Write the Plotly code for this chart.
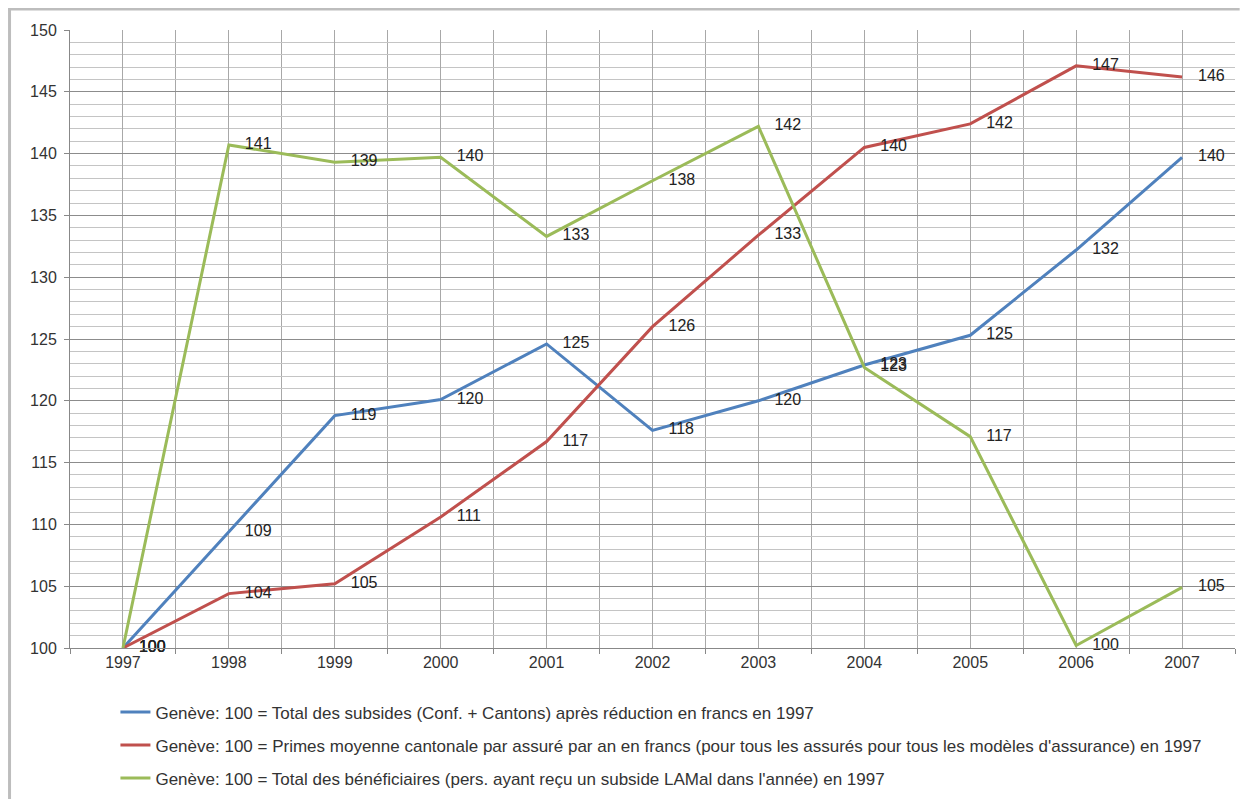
import plotly.graph_objects as go

years = [1997, 1998, 1999, 2000, 2001, 2002, 2003, 2004, 2005, 2006, 2007]

subsides = [100, 109.4, 118.8, 120.1, 124.6, 117.6, 120.0, 122.9, 125.3, 132.2, 139.7]
subsides_labels = ["100", "109", "119", "120", "125", "118", "120", "123", "125", "132", "140"]

primes = [100, 104.4, 105.2, 110.6, 116.7, 126.0, 133.4, 140.5, 142.4, 147.1, 146.2]
primes_labels = ["100", "104", "105", "111", "117", "126", "133", "140", "142", "147", "146"]

benef = [100, 140.7, 139.3, 139.7, 133.3, 137.8, 142.2, 122.7, 117.1, 100.2, 104.9]
benef_labels = ["100", "141", "139", "140", "133", "138", "142", "123", "117", "100", "105"]

names = [
    "Genève: 100 = Total des subsides (Conf. + Cantons) après réduction en francs en 1997",
    "Genève: 100 = Primes moyenne cantonale par assuré par an en francs (pour tous les assurés pour tous les modèles d'assurance) en 1997",
    "Genève: 100 = Total des bénéficiaires (pers. ayant reçu un subside LAMal dans l'année) en 1997",
]
colors = ["#4F81BD", "#C0504D", "#9BBB59"]

FONT = "Liberation Sans, Arial, sans-serif"
FS = 16
LEG_FS = 17

fig = go.Figure()
for i, (vals, labs) in enumerate([(subsides, subsides_labels), (primes, primes_labels), (benef, benef_labels)]):
    fig.add_trace(go.Scatter(
        x=years, y=vals, name=names[i], legendgroup=f"g{i}",
        mode="lines+markers+text",
        line=dict(color=colors[i], width=3),
        marker=dict(size=24, color="rgba(0,0,0,0)", line=dict(width=0)),
        text=labs, textposition="middle right",
        textfont=dict(family=FONT, size=FS, color="#222222"),
        cliponaxis=False,
    ))

fig.update_layout(
    width=1241, height=791,
    margin=dict(l=62, r=14, t=22, b=151, autoexpand=False),
    paper_bgcolor="white", plot_bgcolor="white",
    font=dict(family=FONT, size=FS, color="#333333"),
    showlegend=True,
    legend=dict(
        x=0.039, y=-0.075, xanchor="left", yanchor="top",
        traceorder="grouped", tracegroupgap=8,
        font=dict(family=FONT, size=LEG_FS, color="#333333"),
        bgcolor="rgba(0,0,0,0)",
    ),
    xaxis=dict(
        range=[1996.5, 2007.5],
        tickvals=years, ticktext=[str(y) for y in years],
        ticks="", showgrid=True, gridcolor="#a8a8a8", gridwidth=1,
        showline=True, linecolor="#888888", linewidth=1,
        zeroline=False,
        minor=dict(tick0=1996.5, dtick=1, showgrid=True, gridcolor="#a8a8a8",
                   ticks="outside", ticklen=5, tickcolor="#888888"),
        tickfont=dict(family=FONT, size=FS, color="#333333"),
        fixedrange=True,
    ),
    yaxis=dict(
        range=[100, 150], dtick=5, tick0=100,
        showgrid=True, gridcolor="#8c8c8c", gridwidth=1,
        showline=True, linecolor="#888888", linewidth=1,
        ticks="outside", ticklen=5, tickcolor="#888888",
        zeroline=False,
        minor=dict(dtick=1, showgrid=True, gridcolor="#c4c4c4", gridwidth=1),
        tickfont=dict(family=FONT, size=FS, color="#333333"),
        ticklabelstandoff=4,
    ),
    shapes=[
        dict(type="line", xref="paper", yref="paper", x0=-0.0532, x1=1.004, y0=1.034, y1=1.034,
             line=dict(color="#bdbdbd", width=3)),
        dict(type="line", xref="paper", yref="paper", x0=-0.0519, x1=-0.0519, y0=1.034, y1=-0.245,
             line=dict(color="#bdbdbd", width=3)),
        dict(type="line", xref="paper", yref="paper", x0=1.0067, x1=1.0067, y0=1.02, y1=-0.245,
             line=dict(color="#ececec", width=1)),
    ],
)

fig.write_html("out.html")
